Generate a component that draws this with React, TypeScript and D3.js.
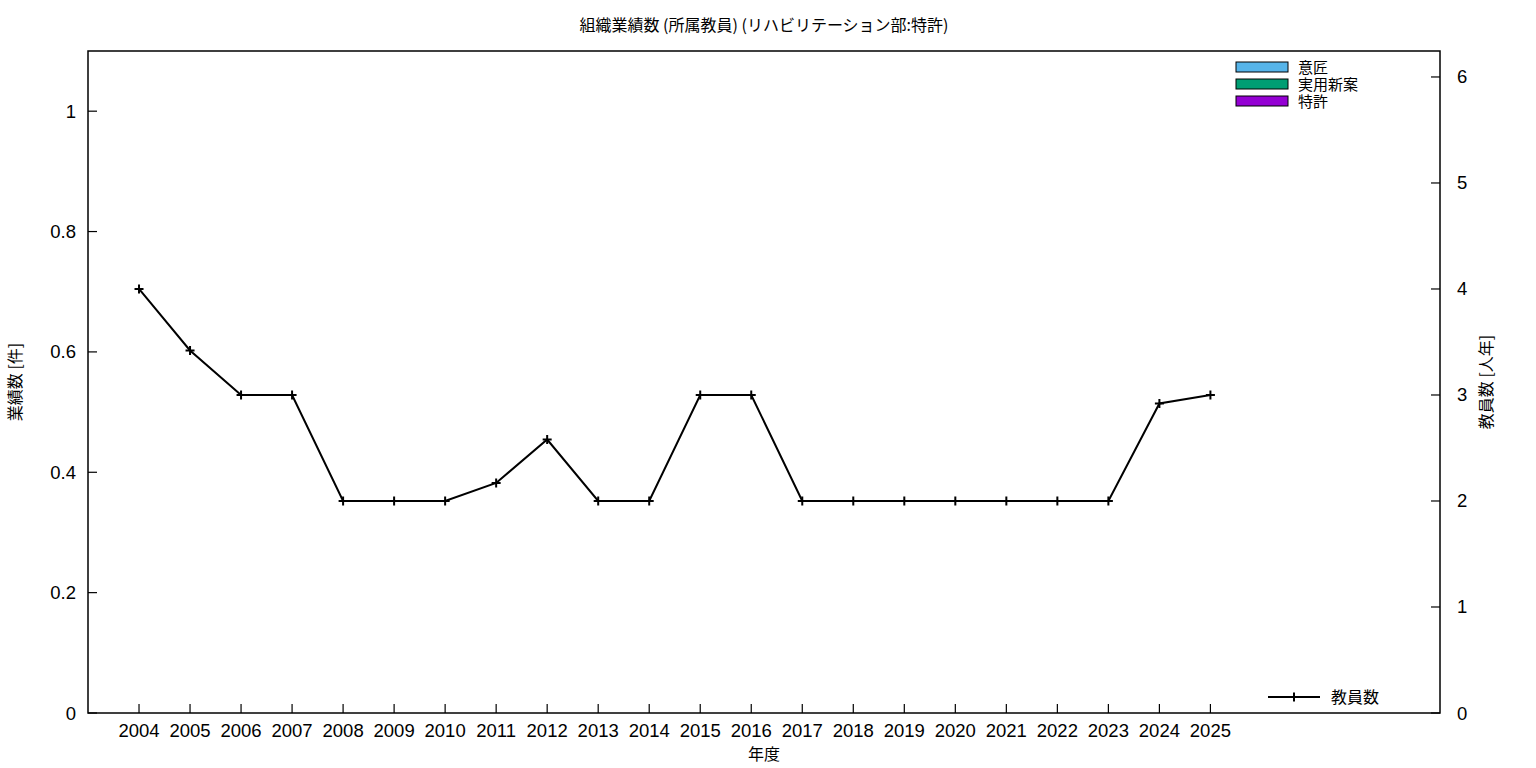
import React from "react";
import * as d3 from "d3";

const years = ["2004","2005","2006","2007","2008","2009","2010","2011","2012","2013","2014","2015","2016","2017","2018","2019","2020","2021","2022","2023","2024","2025"];
const staff = [4.0, 3.42, 3, 3, 2, 2, 2, 2.17, 2.58, 2, 2, 3, 3, 2, 2, 2, 2, 2, 2, 2, 2.92, 3];
const leftTicks = [0, 0.2, 0.4, 0.6, 0.8, 1];
const rightTicks = [0, 1, 2, 3, 4, 5, 6];
const legendNames = ["意匠", "実用新案", "特許"];
const legendColors = ["#56b4e9", "#009e73", "#9400d3"];

const W = 1536, H = 768;
const L = 88, R = 1440, T = 51, B = 713;
const font = "'Noto Sans CJK JP', 'Noto Sans', sans-serif";
const tickFont = "'Liberation Sans', Arial, sans-serif";

export default function App() {
  const x = d3.scaleLinear().domain([-1, 25.5]).range([L, R]);
  const yL = d3.scaleLinear().domain([0, 1.1]).range([B, T]);
  const yR = d3.scaleLinear().domain([0, 6.245]).range([B, T]);
  const line = d3.line<number>().x((_, i) => x(i)).y(d => yR(d));
  return (
    <svg width={W} height={H} style={{ position: "absolute", left: 0, top: 0, background: "#fff" }}>
      <text x={764} y={31} textAnchor="middle" fontFamily={font} fontSize={16}>組織業績数 (所属教員) (リハビリテーション部:特許)</text>
      {leftTicks.map(t => (
        <g key={"l" + t}>
          <line x1={L} x2={L + 9} y1={yL(t)} y2={yL(t)} stroke="#000" strokeWidth={1.2} />
          <text x={76} y={yL(t) + 6.5} textAnchor="end" fontFamily={tickFont} fontSize={18.5}>{t}</text>
        </g>
      ))}
      {rightTicks.map(t => (
        <g key={"r" + t}>
          <line x1={R - 9} x2={R} y1={yR(t)} y2={yR(t)} stroke="#000" strokeWidth={1.2} />
          <text x={1457} y={yR(t) + 6.5} textAnchor="start" fontFamily={tickFont} fontSize={18.5}>{t}</text>
        </g>
      ))}
      {years.map((yr, i) => (
        <g key={yr}>
          <line x1={x(i)} x2={x(i)} y1={B} y2={B - 9} stroke="#000" strokeWidth={1.2} />
          <text x={x(i)} y={737} textAnchor="middle" fontFamily={tickFont} fontSize={18.5}>{yr}</text>
        </g>
      ))}
      <rect x={L} y={T} width={R - L} height={B - T} fill="none" stroke="#000" strokeWidth={1.5} />
      <text x={764} y={760} textAnchor="middle" fontFamily={font} fontSize={16}>年度</text>
      <text transform={`translate(21,382) rotate(-90)`} textAnchor="middle" fontFamily={font} fontSize={16}>業績数 [件]</text>
      <text transform={`translate(1492,382) rotate(-90)`} textAnchor="middle" fontFamily={font} fontSize={16}>教員数 [人年]</text>
      <path d={line(staff) || ""} fill="none" stroke="#000" strokeWidth={2} />
      {staff.map((v, i) => (
        <path key={i} d={`M${x(i) - 4.5},${yR(v)}h9M${x(i)},${yR(v) - 4.5}v9`} stroke="#000" strokeWidth={2} />
      ))}
      {legendNames.map((n, i) => (
        <g key={n}>
          <rect x={1236} y={62 + i * 17} width={52} height={10} fill={legendColors[i]} stroke="#000" strokeWidth={1} />
          <text x={1298} y={73 + i * 17} fontFamily={font} fontSize={15}>{n}</text>
        </g>
      ))}
      <line x1={1268} x2={1320} y1={697} y2={697} stroke="#000" strokeWidth={2} />
      <path d={`M1294,692.5v9`} stroke="#000" strokeWidth={2} />
      <text x={1331} y={703} fontFamily={font} fontSize={16}>教員数</text>
    </svg>
  );
}
